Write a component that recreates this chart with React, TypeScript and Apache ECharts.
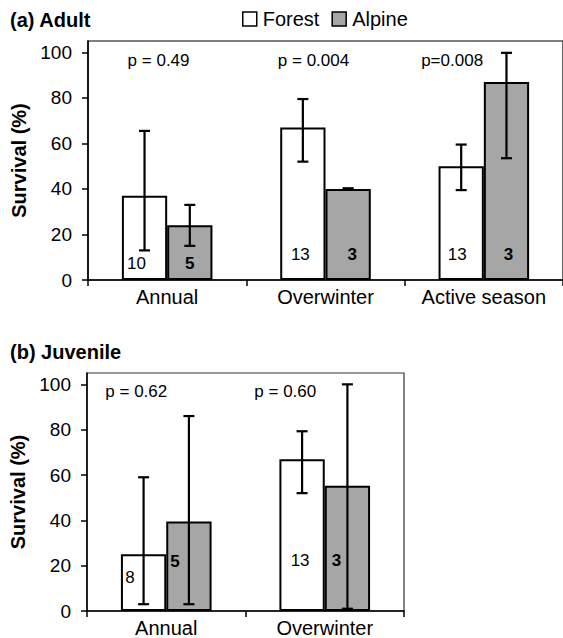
import React, { useEffect, useRef } from "react";
import * as echarts from "echarts";

// ---------- data ----------
const adultCategories = ["Annual", "Overwinter", "Active season"];
const adultForest = [37, 67, 50];
const adultForestErr = [[13, 65.5], [52, 79.5], [39.5, 59.5]];
const adultAlpine = [24, 40, 87];
const adultAlpineErr = [[15, 33], [39.7, 40.3], [53.5, 99.8]];
const adultForestN = ["10", "13", "13"];
const adultAlpineN = ["5", "3", "3"];
const adultP = ["p = 0.49", "p = 0.004", "p=0.008"];

const juvCategories = ["Annual", "Overwinter"];
const juvForest = [25, 67];
const juvForestErr = [[3, 59], [52, 79.3]];
const juvAlpine = [39.5, 55.3];
const juvAlpineErr = [[3, 86], [1, 100]];
const juvForestN = ["8", "13"];
const juvAlpineN = ["5", "3"];
const juvP = ["p = 0.62", "p = 0.60"];

const yTicks = [0, 20, 40, 60, 80, 100];

// ---------- label layout (value-axis height, pixel x shift) ----------
const adultForestNPos = { y: [7.3, 11.3, 11.3], dx: [-8, -2.5, -4] };
const adultAlpineNPos = { y: [7.3, 11.3, 11.3], dx: [0, 4, 2] };
const adultPPos = { y: 96.5, dx: [-8.6, -12, -31.7] };
const juvForestNPos = { y: [15, 22.3], dx: [-13.5, -2] };
const juvAlpineNPos = { y: [22, 22.3], dx: [-14, -11] };
const juvPPos = { y: 97, dx: [-30, -39.5] };

const FONT = "'Liberation Sans', Arial, Helvetica, sans-serif";
const GAP = 0.428;
const ALPINE = "#a6a6a6";

function errRender(side: number) {
  return (params: any, api: any) => {
    const x = api.value(0);
    const lo = api.value(1);
    const hi = api.value(2);
    const band = api.size([1, 0])[0];
    const bw = (band * (1 - GAP)) / 2;
    const pl = api.coord([x, lo]);
    const ph = api.coord([x, hi]);
    const cx = pl[0] + (side * bw) / 2;
    const cap = 5.5;
    const st = { stroke: "#000", lineWidth: 2.2 };
    return {
      type: "group",
      children: [
        { type: "line", shape: { x1: cx, y1: pl[1], x2: cx, y2: ph[1] }, style: st },
        { type: "line", shape: { x1: cx - cap, y1: ph[1], x2: cx + cap, y2: ph[1] }, style: st },
        { type: "line", shape: { x1: cx - cap, y1: pl[1], x2: cx + cap, y2: pl[1] }, style: st },
      ],
    };
  };
}

function textRender(texts: string[], ys: number[] | number, dxs: number[], side: number, size: number, bold: boolean) {
  return (params: any, api: any) => {
    const i = params.dataIndex;
    const yv = Array.isArray(ys) ? ys[i] : ys;
    const band = api.size([1, 0])[0];
    const bw = (band * (1 - GAP)) / 2;
    const p = api.coord([i, yv]);
    return {
      type: "text",
      x: p[0] + (side * bw) / 2 + dxs[i],
      y: p[1],
      style: {
        text: texts[i],
        fill: "#000",
        fontSize: size,
        fontWeight: bold ? "bold" : "normal",
        fontFamily: FONT,
        align: "center",
        verticalAlign: "middle",
      },
    };
  };
}

function xAxisCfg(grid: number, cats: string[]) {
  return {
    gridIndex: grid,
    type: "category",
    data: cats,
    boundaryGap: true,
    axisLine: { show: true, lineStyle: { color: "#000", width: 1.5 } },
    axisTick: { show: true, length: 6, lineStyle: { color: "#000", width: 1.5 } },
    axisLabel: { color: "#000", fontSize: 20, fontFamily: FONT, margin: 7, interval: 0, hideOverlap: false },
    splitLine: { show: false },
  };
}

function yAxisCfg(grid: number, gap: number) {
  return {
    gridIndex: grid,
    type: "value",
    min: 0,
    max: 105,
    interval: 20,
    axisLine: { show: true, lineStyle: { color: "#000", width: 1.5 } },
    axisTick: { show: true, length: 6, customValues: yTicks, lineStyle: { color: "#000", width: 1.5 } },
    axisLabel: { color: "#000", fontSize: 19, fontFamily: FONT, margin: 16, customValues: yTicks },
    splitLine: { show: false },
    name: "Survival (%)",
    nameLocation: "middle",
    nameGap: gap,
    nameTextStyle: { color: "#000", fontSize: 20, fontWeight: "bold", fontFamily: FONT },
  };
}

function barSeries(name: string, grid: number, data: number[], fill: string) {
  return {
    name,
    type: "bar",
    xAxisIndex: grid,
    yAxisIndex: grid,
    data,
    barGap: "0%",
    barCategoryGap: GAP * 100 + "%",
    itemStyle: { color: fill, borderColor: "#000", borderWidth: 2 },
    emphasis: { disabled: true },
    z: 2,
  };
}

function errSeries(grid: number, err: number[][], side: number) {
  return {
    type: "custom",
    xAxisIndex: grid,
    yAxisIndex: grid,
    data: err.map((e, i) => [i, e[0], e[1]]),
    encode: { x: 0, y: [1, 2] },
    renderItem: errRender(side),
    z: 5,
    silent: true,
  };
}

function textSeries(grid: number, texts: string[], ys: number[] | number, dxs: number[], side: number, size: number, bold: boolean) {
  return {
    type: "custom",
    xAxisIndex: grid,
    yAxisIndex: grid,
    data: texts.map((t, i) => [i, Array.isArray(ys) ? ys[i] : ys]),
    encode: { x: 0, y: 1 },
    renderItem: textRender(texts, ys, dxs, side, size, bold),
    z: 6,
    silent: true,
  };
}

export default function App() {
  const ref = useRef<HTMLDivElement>(null);
  useEffect(() => {
    if (!ref.current) return;
    const chart = echarts.init(ref.current, null, { renderer: "svg" });
    chart.setOption({
      animation: false,
      backgroundColor: "#fff",
      textStyle: { fontFamily: FONT },
      legend: {
        left: 242,
        top: 9,
        padding: 0,
        itemWidth: 14,
        itemHeight: 14,
        itemGap: 12,
        selectedMode: false,
        textStyle: { color: "#000", fontSize: 20, fontFamily: FONT, padding: [0, 0, 0, 1] },
        data: [
          { name: "Forest", icon: "rect", itemStyle: { color: "#fff", borderColor: "#000", borderWidth: 1.5 } },
          { name: "Alpine", icon: "rect", itemStyle: { color: ALPINE, borderColor: "#000", borderWidth: 1.5 } },
        ],
      },
      graphic: [
        { type: "text", left: 10, top: 10, style: { text: "(a) Adult", fill: "#000", fontSize: 20, fontWeight: "bold", fontFamily: FONT } },
        { type: "text", left: 10, top: 342, style: { text: "(b) Juvenile", fill: "#000", fontSize: 20, fontWeight: "bold", fontFamily: FONT } },
      ],
      grid: [
        { left: 88, top: 41, width: 479, height: 239, show: true, borderColor: "#000", borderWidth: 1.2, backgroundColor: "transparent" },
        { left: 87, top: 373, width: 317, height: 238, show: true, borderColor: "#333", borderWidth: 1.2, backgroundColor: "transparent" },
      ],
      xAxis: [xAxisCfg(0, adultCategories), xAxisCfg(1, juvCategories)],
      yAxis: [yAxisCfg(0, 58), yAxisCfg(1, 57)],
      series: [
        barSeries("Forest", 0, adultForest, "#fff"),
        barSeries("Alpine", 0, adultAlpine, ALPINE),
        barSeries("Forest", 1, juvForest, "#fff"),
        barSeries("Alpine", 1, juvAlpine, ALPINE),
        errSeries(0, adultForestErr, -1),
        errSeries(0, adultAlpineErr, 1),
        errSeries(1, juvForestErr, -1),
        errSeries(1, juvAlpineErr, 1),
        textSeries(0, adultForestN, adultForestNPos.y, adultForestNPos.dx, -1, 17, false),
        textSeries(0, adultAlpineN, adultAlpineNPos.y, adultAlpineNPos.dx, 1, 17, true),
        textSeries(0, adultP, adultPPos.y, adultPPos.dx, 0, 17, false),
        textSeries(1, juvForestN, juvForestNPos.y, juvForestNPos.dx, -1, 17, false),
        textSeries(1, juvAlpineN, juvAlpineNPos.y, juvAlpineNPos.dx, 1, 17, true),
        textSeries(1, juvP, juvPPos.y, juvPPos.dx, 0, 17, false),
      ],
    });
    return () => chart.dispose();
  }, []);
  return (
    <div
      ref={ref}
      style={{ position: "absolute", left: 0, top: 0, width: 563, height: 638, background: "#fff" }}
    />
  );
}
